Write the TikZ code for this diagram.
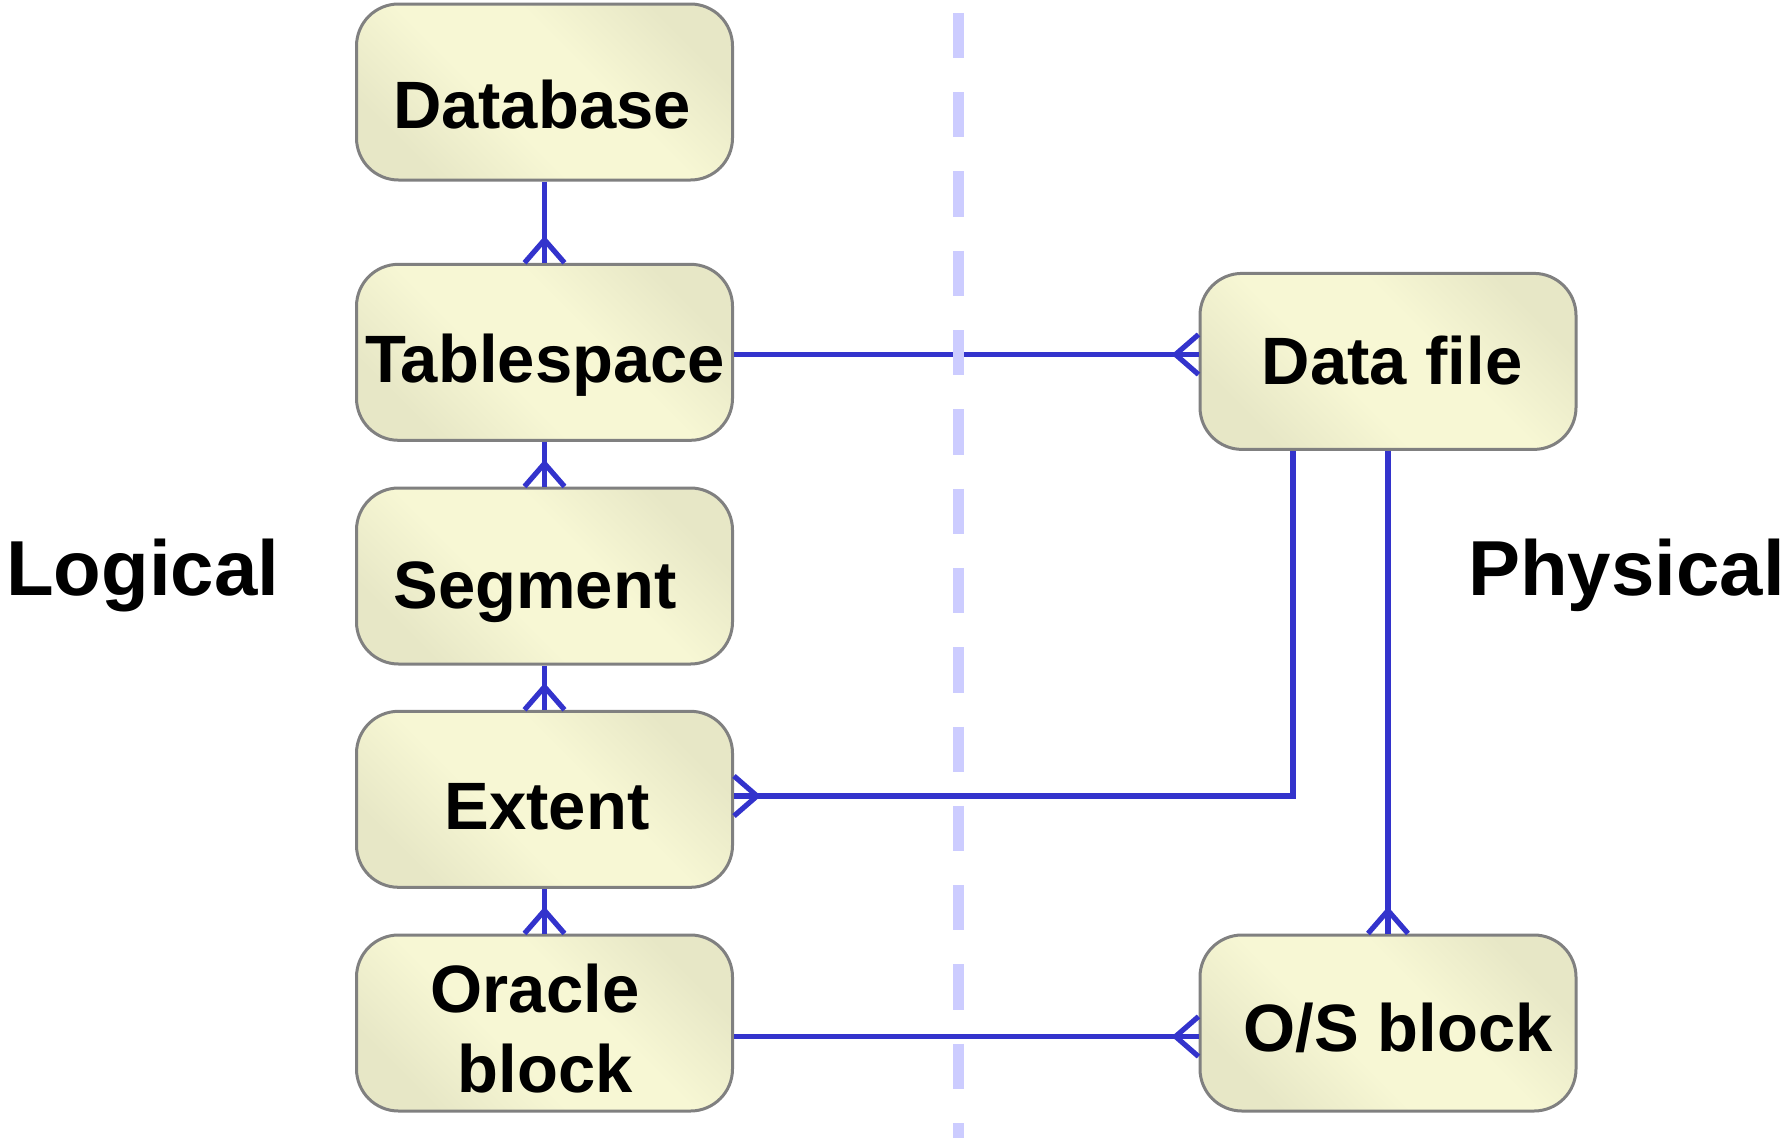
\documentclass[tikz,border=0pt]{standalone}
\usepackage{fontspec}
\setmainfont{Liberation Sans}
\usetikzlibrary{calc}
\definecolor{lineblue}{RGB}{51,51,204}
\definecolor{boxlight}{RGB}{247,247,212}
\definecolor{boxdark}{RGB}{231,231,198}
\definecolor{boxborder}{RGB}{128,128,128}
\definecolor{dashcol}{RGB}{204,204,255}
\pgfdeclarehorizontalshading{boxshade}{100bp}{%
  color(0bp)=(boxdark); color(25bp)=(boxdark); color(42bp)=(boxlight);
  color(58bp)=(boxlight); color(75bp)=(boxdark); color(100bp)=(boxdark)}
\begin{document}
\begin{tikzpicture}[x=1pt,y=-1pt,
  entity/.style={draw=boxborder, line width=3pt, rounded corners=42pt,
    minimum width=376pt, minimum height=176pt, inner sep=0pt,
    shade, shading=boxshade, shading angle=45},
  lbl/.style={anchor=base, font=\fontsize{67}{72}\selectfont\bfseries, inner sep=0pt},
  side/.style={font=\fontsize{78}{84}\selectfont\bfseries, inner sep=0pt},
  conn/.style={draw=lineblue, line width=5.2pt},
  sep/.style={draw=dashcol, line width=11pt, dash pattern=on 45.3pt off 34pt},
]
\useasboundingbox (0,0) rectangle (1788,1138);

% boxes
\node[entity] (db)  at (544.5,92) {};
\node[entity] (ts)  at (544.5,352.3) {};
\node[entity] (seg) at (544.5,576) {};
\node[entity] (ext) at (544.5,799.3) {};
\node[entity] (ob)  at (544.5,1023) {};
\node[entity] (df)  at (1388,361.4) {};
\node[entity] (os)  at (1388,1023) {};

% labels
\node[lbl] (tdb)  at (542,128) {Database};
\node[lbl] (tts)  at (545,382) {Tablespace};
\node[lbl] (tseg) at (535,608) {Segment};
\node[lbl] (text) at (547,829) {Extent};
\node[lbl] (tob1) at (535,1012.6) {Oracle};
\node[lbl] (tob2) at (545,1092) {block};
\node[lbl] (tdf)  at (1392,384) {Data file};
\node[lbl] (tos)  at (1398,1051) {O/S block};
\node[side, anchor=base west] (tlog) at (6,595) {Logical};
\node[side, anchor=base east] (tphy) at (1785,595) {Physical};

% helper coordinates
\coordinate (yts) at (0,354.5);
\coordinate (yext) at (0,796);
\coordinate (yob) at (0,1036.5);
\coordinate (xdf) at (1293,0);

% vertical connectors with crow's foot at the lower box
\foreach \a/\b in {db/ts, ts/seg, seg/ext, ext/ob, df/os}{
  \draw[conn] (\a.south) -- (\b.north);
  \draw[conn] ($(\b.north)+(-20,0)$) -- ($(\b.north)+(0,-23)$) -- ($(\b.north)+(20,0)$);
}

% Tablespace -> Data file
\draw[conn] (ts.east |- yts) -- (df.west |- yts);
\draw[conn] ($(df.west |- yts)+(0,-20)$) -- ($(df.west |- yts)+(-23,0)$) -- ($(df.west |- yts)+(0,20)$);

% Data file -> Extent
\draw[conn] (df.south -| xdf) -- (xdf |- yext) -- (ext.east |- yext);
\draw[conn] ($(ext.east |- yext)+(0,-20)$) -- ($(ext.east |- yext)+(23,0)$) -- ($(ext.east |- yext)+(0,20)$);

% Oracle block -> O/S block
\draw[conn] (ob.east |- yob) -- (os.west |- yob);
\draw[conn] ($(os.west |- yob)+(0,-20)$) -- ($(os.west |- yob)+(-23,0)$) -- ($(os.west |- yob)+(0,20)$);

% separator
\coordinate (septop) at (958,12.8);
\coordinate (sepbot) at (958,1138);
\draw[sep] (septop) -- (sepbot);
\end{tikzpicture}
\end{document}
